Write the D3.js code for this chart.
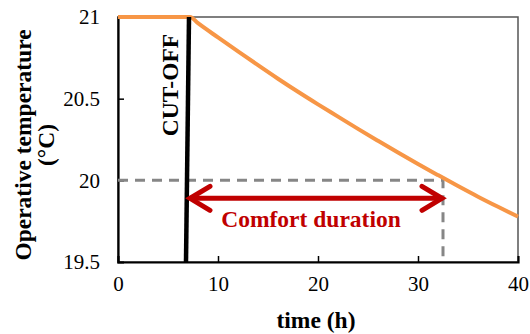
<!DOCTYPE html>
<html>
<head>
<meta charset="utf-8">
<script src="https://cdn.jsdelivr.net/npm/d3@7"></script>
<style>
  body { margin: 0; background: #fff; }
</style>
</head>
<body>
<div id="chart"></div>
<script>
// temperature after heating cut-off
const timeH = [0, 7.2, 8, 10, 12, 14, 16, 18, 20, 22, 24, 26, 28, 30, 32, 34, 36, 38, 40];
const tempC = [21, 21, 20.962, 20.875, 20.79, 20.705, 20.622, 20.542, 20.465, 20.39, 20.315, 20.242, 20.17, 20.1, 20.032, 19.965, 19.9, 19.838, 19.778];

// cut-off marker (slightly slanted in the original)
const cutoffTime = [7.1, 6.8];
const cutoffTemp = [21, 19.5];

// comfort threshold and duration
const comfortTemp = 20;
const comfortStart = 6.9;
const comfortEnd = 32.5;
const arrowTemp = 19.89;

const xTicks = [0, 10, 20, 30, 40];
const yTicks = [19.5, 20, 20.5, 21];

const width = 530, height = 334;
const margin = { top: 17, right: 12, bottom: 72, left: 118 };
const font = "Liberation Serif";

const svg = d3.select("#chart").append("svg")
    .attr("width", width)
    .attr("height", height)
    .attr("font-family", font);

const x = d3.scaleLinear().domain([0, 40]).range([margin.left, width - margin.right]);
const y = d3.scaleLinear().domain([19.5, 21]).range([height - margin.bottom, margin.top]);

// plot frame (top/right)
svg.append("rect")
    .attr("x", x(0)).attr("y", y(21))
    .attr("width", x(40) - x(0)).attr("height", y(19.5) - y(21))
    .attr("fill", "none")
    .attr("stroke", "#555")
    .attr("stroke-width", 1.5);

// axes, ticks pointing inward
const xAxis = svg.append("g")
    .attr("transform", `translate(0,${y(19.5)})`)
    .call(d3.axisBottom(x).tickValues(xTicks).tickSize(-6).tickPadding(14).tickFormat(d3.format("d")));
const yAxis = svg.append("g")
    .attr("transform", `translate(${x(0)},0)`)
    .call(d3.axisLeft(y).tickValues(yTicks).tickSize(-6).tickPadding(18).tickFormat(d => d));

[xAxis, yAxis].forEach(g => {
    g.attr("font-family", font).attr("font-size", 21);
    g.select(".domain").attr("stroke", "#000").attr("stroke-width", 2.2);
    g.selectAll(".tick line").attr("stroke", "#000").attr("stroke-width", 1.5);
    g.selectAll(".tick text").attr("fill", "#000");
});
xAxis.selectAll(".tick text").attr("dy", "0.71em");
xAxis.selectAll(".tick").filter(d => d === 0 || d === 40).select("line").remove();
yAxis.selectAll(".tick").filter(d => d === 21 || d === 19.5).select("line").remove();

// dashed guide at the comfort threshold
svg.append("path")
    .attr("d", `M${x(0)},${y(comfortTemp)}H${x(comfortEnd)}V${y(19.5)}`)
    .attr("fill", "none")
    .attr("stroke", "#868686")
    .attr("stroke-width", 3)
    .attr("stroke-dasharray", "10,7");

// temperature curve
const line = d3.line()
    .x((d, i) => x(timeH[i]))
    .y(d => y(d))
    .curve(d3.curveMonotoneX);

svg.append("path")
    .attr("d", line(tempC))
    .attr("fill", "none")
    .attr("stroke", "#f79646")
    .attr("stroke-width", 4);

// cut-off line
svg.append("line")
    .attr("x1", x(cutoffTime[0])).attr("y1", y(cutoffTemp[0]))
    .attr("x2", x(cutoffTime[1])).attr("y2", y(cutoffTemp[1]))
    .attr("stroke", "#000")
    .attr("stroke-width", 4.5);

svg.append("text")
    .attr("transform", `translate(178,85) rotate(-90)`)
    .attr("text-anchor", "middle")
    .attr("font-size", 23.5)
    .attr("font-weight", "bold")
    .text("CUT-OFF");

// comfort duration arrow
const red = "#c00000";
const ax0 = x(comfortStart) + 1, ax1 = x(comfortEnd) + 1, ay = y(arrowTemp);
svg.append("line")
    .attr("x1", ax0 + 2).attr("y1", ay)
    .attr("x2", ax1 - 2).attr("y2", ay)
    .attr("stroke", red).attr("stroke-width", 5);
svg.append("path")
    .attr("d", `M${ax0 + 22},${ay - 12}L${ax0 + 2},${ay}L${ax0 + 22},${ay + 12}` +
               `M${ax1 - 22},${ay - 12}L${ax1 - 2},${ay}L${ax1 - 22},${ay + 12}`)
    .attr("fill", "none")
    .attr("stroke", red)
    .attr("stroke-width", 5)
    .attr("stroke-linecap", "round")
    .attr("stroke-linejoin", "miter");

svg.append("text")
    .attr("x", 311).attr("y", 227)
    .attr("text-anchor", "middle")
    .attr("fill", red)
    .attr("font-size", 23.5)
    .attr("font-weight", "bold")
    .text("Comfort duration");

// axis titles
svg.append("text")
    .attr("x", 316).attr("y", 328)
    .attr("text-anchor", "middle")
    .attr("font-size", 23.5)
    .attr("font-weight", "bold")
    .text("time (h)");

const yTitle = svg.append("text")
    .attr("transform", `translate(31,145) rotate(-90)`)
    .attr("text-anchor", "middle")
    .attr("font-size", 23.5)
    .attr("font-weight", "bold");
yTitle.append("tspan").attr("x", 0).attr("dy", 0).text("Operative temperature");
yTitle.append("tspan").attr("x", 0).attr("dy", 23).text("(°C)");
</script>
</body>
</html>
